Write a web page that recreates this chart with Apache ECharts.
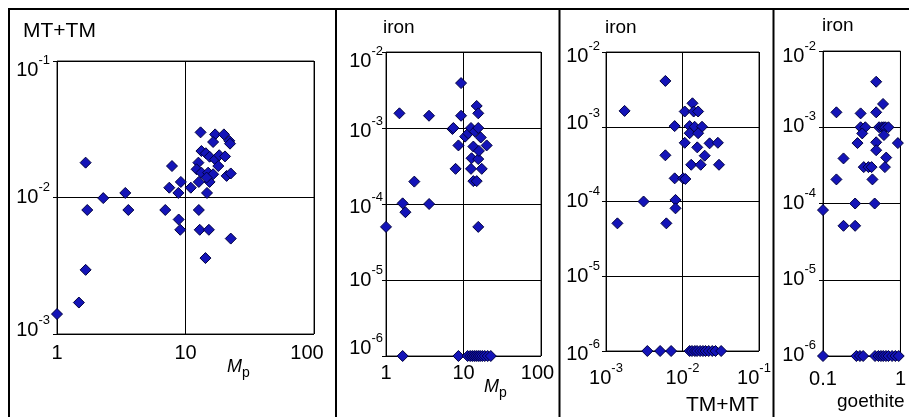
<!DOCTYPE html>
<html><head><meta charset="utf-8">
<script src="https://cdn.jsdelivr.net/npm/echarts@6/dist/echarts.min.js"></script>
<style>html,body{margin:0;padding:0;background:#fff}#c{width:909px;height:417px}</style>
</head><body><div id="c"></div>
<script>
// ---------------- data ----------------
// Panel 1: MT+TM vs Mp
const p1Mp = [1.0, 1.48, 1.67, 1.67, 1.72, 2.29, 3.4, 3.59, 6.96, 7.48, 7.85, 8.8, 8.85, 9.1, 9.2, 11.0, 12.7, 12.9, 14.3, 15.2, 22.5, 14.7, 13.1, 17.0, 16.4, 19.9, 21.9, 22.2, 13.3, 14.4, 15.4, 17.0, 18.3, 20.3, 18.0, 12.6, 12.2, 13.3, 15.0, 16.4, 12.7, 15.4, 20.9, 22.5, 14.6];
const p1MtTm = [0.0014, 0.0017, 0.00295, 0.018, 0.0081, 0.0099, 0.0108, 0.0081, 0.0081, 0.0118, 0.017, 0.0108, 0.0069, 0.0058, 0.013, 0.0118, 0.0081, 0.0058, 0.0036, 0.0058, 0.005, 0.0108, 0.030, 0.029, 0.0255, 0.029, 0.026, 0.0248, 0.0219, 0.0211, 0.0199, 0.019, 0.0204, 0.020, 0.017, 0.018, 0.0161, 0.0152, 0.0152, 0.0148, 0.013, 0.013, 0.0144, 0.015, 0.014];
// Panel 2: iron vs Mp
const p2Mp = [1.0, 1.49, 1.64, 1.78, 2.32, 3.59, 3.6, 1.64, 7.9, 7.2, 7.4, 8.6, 9.3, 9.3, 8.6, 10.5, 11.5, 12.5, 14.0, 15.5, 14.8, 15.5, 13.4, 12.7, 15.5, 12.5, 17.2, 13.4, 14.8, 15.8, 19.9, 15.5, 16.7, 11.3, 12.2, 13.0, 13.8, 14.6, 15.5, 16.4, 17.5, 18.8, 20.5, 22.5];
const p2Iron = [5e-5, 1.56e-3, 1.02e-4, 7.8e-5, 1.97e-4, 1.45e-3, 1e-4, 1e-6, 2.9e-4, 9.7e-4, 1e-3, 5.9e-4, 3.9e-3, 1.45e-3, 1e-6, 7.7e-4, 8.5e-4, 1e-3, 9e-4, 1e-3, 1.95e-3, 1.56e-3, 5.7e-4, 4e-4, 3.9e-4, 2.9e-4, 2.9e-4, 2e-4, 2e-4, 5e-4, 5.9e-4, 5e-5, 7.5e-4, 1e-6, 1e-6, 1e-6, 1e-6, 1e-6, 1e-6, 1e-6, 1e-6, 1e-6, 1e-6, 1e-6];
// Panel 3: iron vs TM+MT
const p3TmMt = [1.41e-3, 1.75e-3, 3.1e-3, 5.97e-3, 5.97e-3, 6.15e-3, 7.9e-3, 7.9e-3, 8.1e-3, 8.1e-3, 1.02e-2, 1.09e-2, 1.07e-2, 1.07e-2, 1.35e-2, 1.4e-2, 1.6e-2, 1.24e-2, 1.44e-2, 1.8e-2, 1.24e-2, 1.6e-2, 1.56e-2, 1.3e-2, 1.73e-2, 1.95e-2, 2.26e-2, 2.9e-2, 3.0e-2, 3.47e-3, 5.1e-3, 7.1e-3, 1.24e-2, 1.33e-2, 1.45e-2, 1.55e-2, 1.7e-2, 1.85e-2, 2.0e-2, 2.2e-2, 2.45e-2, 2.7e-2, 3.2e-2];
const p3Iron = [5.1e-5, 1.63e-3, 1e-4, 4.1e-3, 4.15e-4, 5.1e-5, 1.02e-3, 2.04e-4, 1.05e-4, 8.1e-5, 2.04e-4, 2e-4, 6.1e-4, 1.6e-3, 2.06e-3, 1.6e-3, 1.6e-3, 1.02e-3, 1e-3, 1e-3, 8.2e-4, 8.2e-4, 5.3e-4, 3.1e-4, 3.1e-4, 4.1e-4, 6e-4, 6.1e-4, 3.1e-4, 1e-6, 1e-6, 1e-6, 1e-6, 1e-6, 1e-6, 1e-6, 1e-6, 1e-6, 1e-6, 1e-6, 1e-6, 1e-6, 1e-6];
// Panel 4: iron vs goethite
const p4Goethite = [0.486, 0.596, 0.486, 0.306, 0.149, 0.306, 0.352, 0.53, 0.574, 0.61, 0.64, 0.70, 0.321, 0.612, 0.486, 0.927, 0.279, 0.486, 0.655, 0.184, 0.336, 0.386, 0.424, 0.63, 0.149, 0.435, 0.26, 0.465, 0.1, 0.184, 0.26, 0.1, 0.27, 0.30, 0.33, 0.47, 0.52, 0.56, 0.6, 0.65, 0.7, 0.78, 0.86, 0.95];
const p4Iron = [3.95e-3, 2.02e-3, 1.57e-3, 1.52e-3, 1.57e-3, 1e-3, 1e-3, 1e-3, 1e-3, 1e-3, 1e-3, 1e-3, 8.3e-4, 7.9e-4, 6.35e-4, 6.2e-4, 6.2e-4, 5e-4, 4e-4, 3.9e-4, 3e-4, 3e-4, 3e-4, 3e-4, 2.07e-4, 2.07e-4, 1e-4, 1e-4, 8.2e-5, 5.1e-5, 5.1e-5, 1e-6, 1e-6, 1e-6, 1e-6, 1e-6, 1e-6, 1e-6, 1e-6, 1e-6, 1e-6, 1e-6, 1e-6, 1e-6];

const panelTitles = ['MT+TM', 'iron', 'iron', 'iron'];
const xAxisNames = ['M', 'M', 'TM+MT', 'goethite'];
const xRanges = [[1, 100], [1, 100], [0.001, 0.1], [0.1, 1]];
const yRanges = [[0.001, 0.1], [1e-6, 0.01], [1e-6, 0.01], [1e-6, 0.01]];
const plainXLabels = {1: '1', 10: '10', 100: '100', 0.1: '0.1'};

// ---------------- styling ----------------
const FONT = "'Liberation Sans', Arial, sans-serif";
const grids = [
  {left: 57, top: 61, width: 257, height: 273},
  {left: 386, top: 52, width: 155, height: 304},
  {left: 606, top: 52, width: 153, height: 299},
  {left: 823, top: 51, width: 83, height: 305}
];
// per-exponent vertical nudges of the y labels (px, + = down)
const yNudge = [
  {'-1': 9, '-2': 0, '-3': -4},
  {'-2': 9, '-3': 3, '-4': 3, '-5': 0, '-6': -8},
  {'-2': 4, '-3': -3, '-4': 0, '-5': 0, '-6': 3},
  {'-2': 5, '-3': -1, '-4': 0, '-5': 0, '-6': -1}
];
const yMargins = [7, 3, 6, 7];
const xMargins = [9.5, 7, 17, 13];
const lastXShift = [7, 3.5, 5, 0];

function supLabel(nudges, gap, shiftMax, maxExp) {
  const rich = {}, keyFor = {};
  Object.keys(nudges).forEach((e, i) => {
    const d = nudges[e];
    const r = (shiftMax && +e === maxExp) ? 2 * shiftMax : 0;
    rich['b' + i] = d >= 0
      ? {fontFamily: FONT, fontSize: 20, lineHeight: 20, color: '#000', verticalAlign: 'top', padding: [d, 0, 0, 0]}
      : {fontFamily: FONT, fontSize: 20, lineHeight: 20, color: '#000', verticalAlign: 'bottom', padding: [0, 0, -d, 0]};
    const ps = d - gap + 3.5;
    rich['s' + i] = ps >= 0
      ? {fontFamily: FONT, fontSize: 13, lineHeight: 13, color: '#000', verticalAlign: 'top', padding: [ps, r, 0, 0]}
      : {fontFamily: FONT, fontSize: 13, lineHeight: 13, color: '#000', verticalAlign: 'bottom', padding: [0, r, 7 - ps, 0]};
    keyFor[e] = i;
  });
  return {
    rich,
    formatter: v => {
      const e = Math.round(Math.log10(v));
      const i = keyFor[String(e)] !== undefined ? keyFor[String(e)] : 0;
      return '{b' + i + '|10}{s' + i + '|' + e + '}';
    }
  };
}

const xAxes = [], yAxes = [], series = [];
const xs = [p1Mp, p2Mp, p3TmMt, p4Goethite];
const ys = [p1MtTm, p2Iron, p3Iron, p4Iron];
for (let i = 0; i < 4; i++) {
  const xr = xRanges[i], yr = yRanges[i];
  const xSpan = Math.round(Math.log10(xr[1] / xr[0]));
  const ySpan = Math.round(Math.log10(yr[1] / yr[0]));
  let xLabel;
  if (i === 2) {
    const sl = supLabel({'-3': 0, '-2': 0, '-1': 0}, 10, lastXShift[i], Math.round(Math.log10(xr[1])));
    xLabel = {margin: xMargins[i], formatter: sl.formatter, rich: sl.rich};
  } else {
    const sh = lastXShift[i];
    xLabel = {
      margin: xMargins[i],
      formatter: v => {
        const key = +(+v).toPrecision(3);
        const t = plainXLabels[key] || String(v);
        return (sh && Math.abs(key - xr[1]) < 1e-9) ? '{r|' + t + '}' : '{n|' + t + '}';
      },
      rich: {
        n: {fontFamily: FONT, fontSize: 20, lineHeight: 20, color: '#000'},
        r: {fontFamily: FONT, fontSize: 20, lineHeight: 20, color: '#000', padding: [0, 2 * sh, 0, 0]}
      }
    };
  }
  xAxes.push({
    type: 'log', logBase: 10, gridIndex: i, min: xr[0], max: xr[1], splitNumber: xSpan, interval: 1,
    axisLine: {show: false}, axisTick: {show: false},
    splitLine: {show: true, lineStyle: {color: '#000', width: 1}},
    axisLabel: Object.assign({show: true, showMinLabel: true, showMaxLabel: true}, xLabel)
  });
  const yl = supLabel(yNudge[i], 10, 0, null);
  yAxes.push({
    type: 'log', logBase: 10, gridIndex: i, min: yr[0], max: yr[1], splitNumber: ySpan, interval: 1,
    axisLine: {show: false},
    axisTick: {show: true, length: 4, inside: false, lineStyle: {color: '#000', width: 1}},
    splitLine: {show: true, lineStyle: {color: '#000', width: 1}},
    axisLabel: {show: true, margin: yMargins[i], formatter: yl.formatter, rich: yl.rich, showMinLabel: true, showMaxLabel: true}
  });
  series.push({
    type: 'scatter', xAxisIndex: i, yAxisIndex: i,
    symbol: 'diamond', symbolSize: 11,
    itemStyle: {color: '#1414b8', borderColor: '#000040', borderWidth: 1, opacity: 1},
    emphasis: {disabled: true},
    data: xs[i].map((x, k) => [x, ys[i][k]])
  });
}

const mpRich = {
  m: {fontFamily: FONT, fontStyle: 'italic', fontSize: 18, lineHeight: 18, color: '#000', verticalAlign: 'top'},
  p: {fontFamily: FONT, fontSize: 14, lineHeight: 14, color: '#000', verticalAlign: 'top', padding: [9, 0, 0, 0]}
};
function txt(x, y, text, size) {
  return {type: 'text', x: x, y: y, silent: true,
    style: {text: text, fontFamily: FONT, fontSize: size, fill: '#000', verticalAlign: 'middle', align: 'left'}};
}
function line(x1, y1, x2, y2) {
  return {type: 'line', silent: true, shape: {x1, y1, x2, y2}, style: {stroke: '#000', lineWidth: 2}};
}
const graphic = [
  line(8, 9, 909, 9), line(9, 8, 9, 417), line(336, 8, 336, 417), line(559.5, 8, 559.5, 417), line(773.5, 8, 773.5, 417),
  txt(23, 31.5, panelTitles[0], 21),
  txt(383, 27.5, panelTitles[1], 19),
  txt(605, 27.5, panelTitles[2], 19),
  txt(822, 25.5, panelTitles[3], 19),
  {type: 'text', x: 227, y: 357.5, silent: true, style: {text: '{m|' + xAxisNames[0] + '}{p|p}', rich: mpRich, verticalAlign: 'top', align: 'left'}},
  {type: 'text', x: 484, y: 377.5, silent: true, style: {text: '{m|' + xAxisNames[1] + '}{p|p}', rich: mpRich, verticalAlign: 'top', align: 'left'}},
  txt(686, 405, xAxisNames[2], 21),
  txt(837, 402, xAxisNames[3], 19)
];

const chart = echarts.init(document.getElementById('c'), null, {renderer: 'canvas'});
chart.setOption({
  backgroundColor: '#fff',
  animation: false,
  grid: grids.map(g => Object.assign({show: true, borderColor: '#222', borderWidth: 1, backgroundColor: 'transparent', containLabel: false}, g)),
  xAxis: xAxes,
  yAxis: yAxes,
  series: series,
  graphic: graphic
});
</script>
</body></html>
